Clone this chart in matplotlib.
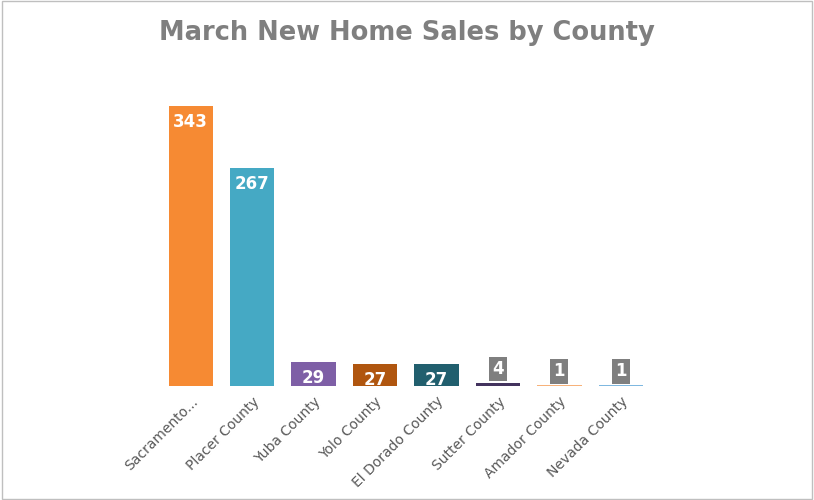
import matplotlib
matplotlib.use('Agg')
import matplotlib.pyplot as plt
import numpy as np
from matplotlib.patches import Rectangle

counties = ['Sacramento...', 'Placer County', 'Yuba County', 'Yolo County',
            'El Dorado County', 'Sutter County', 'Amador County', 'Nevada County']
sales = [343, 267, 29, 27, 27, 4, 1, 1]
colors = ['#F68A33', '#45A9C4', '#7E5FA6', '#B0560F', '#215F6E', '#43335E', '#F7B27A', '#7FB8E0']

fig = plt.figure(figsize=(8.14, 5.0), dpi=100)
fig.patches.append(Rectangle((0.002, 0.002), 0.996, 0.996, transform=fig.transFigure,
                             fill=False, edgecolor='#BFBFBF', linewidth=1))
ax = fig.add_axes([0.189, 0.228, 0.619, 0.652])

x = np.arange(len(counties))
ax.bar(x, sales, width=0.72, color=colors, zorder=2)

for xi, v in zip(x, sales):
    if v >= 20:
        ax.text(xi, v - 8, str(v), ha='center', va='top', color='white',
                fontsize=12, fontweight='bold', zorder=3)
    else:
        ax.text(xi, v + 6, str(v), ha='center', va='bottom', color='white',
                fontsize=12, fontweight='bold', zorder=3,
                bbox=dict(boxstyle='square,pad=0.2', facecolor='#7F7F7F', edgecolor='none'))

ax.set_ylim(0, 400)
ax.set_xlim(-0.6, len(counties) - 0.4)
ax.set_yticks([])
ax.set_xticks(x)
ax.set_xticklabels(counties, rotation=45, ha='right', rotation_mode='anchor',
                   fontsize=10, color='#595959')
ax.tick_params(axis='x', length=0, pad=6)
for s in ax.spines.values():
    s.set_visible(False)

fig.text(0.5, 0.935, 'March New Home Sales by County', ha='center', va='center',
         fontsize=18.5, fontweight='bold', color='#7F7F7F')

fig.savefig('out.png', dpi=100)
